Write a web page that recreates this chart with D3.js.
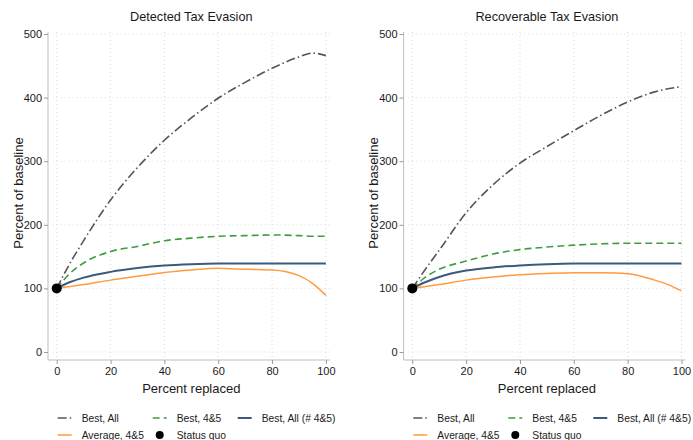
<!DOCTYPE html>
<html>
<head>
<meta charset="utf-8">
<script src="https://cdn.jsdelivr.net/npm/d3@7"></script>
<style>
  body { margin: 0; background: #fff; }
  text { font-family: "Liberation Sans", Arial, sans-serif; fill: #1a1a1a; }
</style>
</head>
<body>
<script>
// Data
const pctReplaced = [0, 5, 10, 20, 30, 40, 50, 60, 70, 80, 90, 95, 100];

// Detected Tax Evasion
const detBestAll   = [100, 140, 175, 239, 290, 333, 368, 399, 424, 446, 464, 470, 466];
const detBest45    = [100, 124, 140, 158, 166, 175, 179, 182, 183, 184, 183, 182, 182];
const detBestAllNo = [100, 110, 117, 126, 132, 136, 138, 139, 139, 139, 139, 139, 139];
const detAvg45     = [100, 103, 106, 113, 119, 125, 129, 131.5, 130, 129, 120, 108, 89];

// Recoverable Tax Evasion
const recBestAll   = [100, 131, 160, 219, 263, 297, 323, 348, 372, 393, 409, 414, 417];
const recBest45    = [100, 118, 130, 143, 154, 161, 165, 168, 170, 171, 171, 171, 171];
const recBestAllNo = [100, 110, 118, 128, 133, 136, 138, 139, 139, 139, 139, 139, 139];
const recAvg45     = [100, 103, 106, 113, 118, 121.5, 123.5, 124.7, 124.5, 123, 113, 106, 96];

const xTicks = [0, 20, 40, 60, 80, 100];
const yTicks = [0, 100, 200, 300, 400, 500];
const statusQuo = {x: 0, y: 100};

const legendLabels = ["Best, All", "Best, 4&5", "Best, All (# 4&5)", "Average, 4&5", "Status quo"];

const panels = [
  {title: "Detected Tax Evasion", left: 56.7, series: [detBestAll, detBest45, detBestAllNo, detAvg45]},
  {title: "Recoverable Tax Evasion", left: 412.3, series: [recBestAll, recBest45, recBestAllNo, recAvg45]}
];

const styles = [
  {color: "#555555", width: 1.6, dash: "9,3,1.5,3"},
  {color: "#3f9c3f", width: 1.6, dash: "7,4"},
  {color: "#3b5a7d", width: 2, dash: null},
  {color: "#ff9b3d", width: 1.5, dash: null}
];

const width = 693, height = 440;
const plotW = 269.2;

const svg = d3.select("body").append("svg")
    .attr("width", width)
    .attr("height", height);

const y = d3.scaleLinear().domain([0, 500]).range([352, 34]);

panels.forEach(function(p) {
    const x = d3.scaleLinear().domain([0, 100]).range([p.left, p.left + plotW]);
    const g = svg.append("g");

    // dotted grid
    g.selectAll(".hgrid").data(yTicks).enter().append("line")
        .attr("x1", x(0) - 4).attr("x2", x(100) + 4)
        .attr("y1", d => y(d)).attr("y2", d => y(d))
        .attr("stroke", "#d9d9d9").attr("stroke-dasharray", "1,3");
    g.selectAll(".vgrid").data(xTicks).enter().append("line")
        .attr("x1", d => x(d)).attr("x2", d => x(d))
        .attr("y1", y(500) - 2).attr("y2", y(0) + 6)
        .attr("stroke", "#d9d9d9").attr("stroke-dasharray", "1,3");

    // y axis
    const axL = p.left - 8.7;
    const yAxis = g.append("g")
        .attr("transform", "translate(" + axL + ",0)")
        .call(d3.axisLeft(y).tickValues(yTicks).tickSize(4).tickPadding(2));
    yAxis.select(".domain").attr("d", "M0," + (y(500) - 2) + "V360").attr("stroke", "#bdbdbd");
    yAxis.selectAll(".tick line").attr("stroke", "#9a9a9a");
    yAxis.selectAll(".tick text").style("font-size", "11px").attr("fill", "#1a1a1a");

    // x axis
    const xAxis = g.append("g")
        .attr("transform", "translate(0,360)")
        .call(d3.axisBottom(x).tickValues(xTicks).tickSize(4).tickPadding(3));
    xAxis.select(".domain").attr("d", "M" + axL + ",0H" + (x(100) + 4)).attr("stroke", "#bdbdbd");
    xAxis.selectAll(".tick line").attr("stroke", "#9a9a9a");
    xAxis.selectAll(".tick text").style("font-size", "11px").attr("fill", "#1a1a1a");

    // titles
    g.append("text")
        .attr("x", x(50)).attr("y", 21)
        .style("text-anchor", "middle").style("font-size", "12.7px")
        .text(p.title);
    g.append("text")
        .attr("x", x(50)).attr("y", 393)
        .style("text-anchor", "middle").style("font-size", "13px")
        .text("Percent replaced");
    g.append("text")
        .attr("transform", "translate(" + (p.left - 34) + "," + ((y(0) + y(500)) / 2) + ") rotate(-90)")
        .style("text-anchor", "middle").style("font-size", "13px")
        .attr("fill", "#2a1420")
        .text("Percent of baseline");

    // lines
    const line = d3.line()
        .x((d, i) => x(pctReplaced[i]))
        .y(d => y(d))
        .curve(d3.curveMonotoneX);

    [0, 1, 3, 2].forEach(function(k) {
        g.append("path")
            .datum(p.series[k])
            .attr("fill", "none")
            .attr("stroke", styles[k].color)
            .attr("stroke-width", styles[k].width)
            .attr("stroke-dasharray", styles[k].dash)
            .attr("d", line);
    });

    g.append("circle")
        .attr("cx", x(statusQuo.x)).attr("cy", y(statusQuo.y))
        .attr("r", 5).attr("fill", "#000");

    // legend
    const legPos = [
        {dx: 1, row: 0}, {dx: 96, row: 0}, {dx: 181, row: 0},
        {dx: 1, row: 1}, {dx: 96, row: 1}
    ];
    legendLabels.forEach(function(lab, i) {
        const lx = p.left + legPos[i].dx;
        const ly = 418 + legPos[i].row * 17;
        if (i < 4) {
            g.append("line")
                .attr("x1", lx).attr("x2", lx + 14)
                .attr("y1", ly).attr("y2", ly)
                .attr("stroke", styles[i].color)
                .attr("stroke-width", styles[i].width)
                .attr("stroke-dasharray", styles[i].dash);
        } else {
            g.append("circle").attr("cx", lx + 7).attr("cy", ly).attr("r", 4).attr("fill", "#000");
        }
        g.append("text")
            .attr("x", lx + 24).attr("y", ly + 4)
            .style("font-size", "10.3px")
            .text(lab);
    });
});
</script>
</body>
</html>
